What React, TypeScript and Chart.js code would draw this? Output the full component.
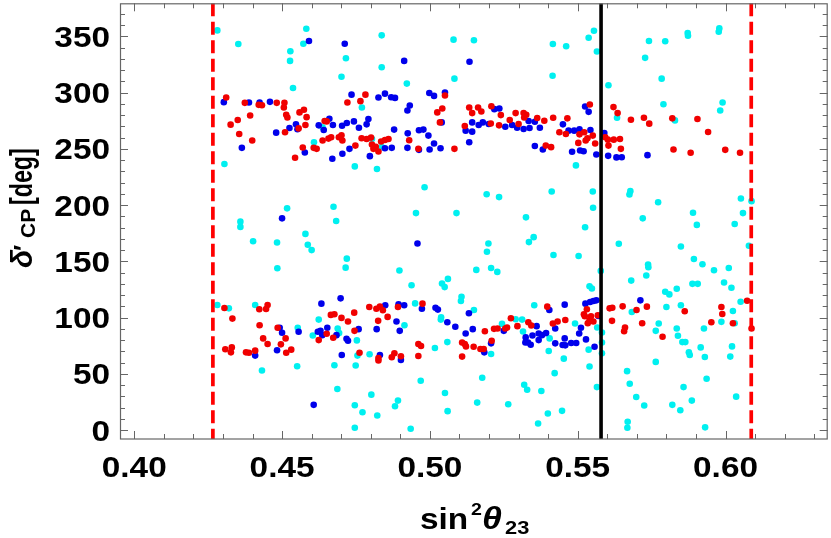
import React, { useEffect, useRef } from "react";
import { Chart, registerables } from "chart.js";

Chart.register(...registerables);

const W = 831;
const H = 538;

// axis ranges
const xMin = 0.39518;
const xMax = 0.63456;
const yMin = -7.94;
const yMax = 379.4;

// tick labels
const xTickLabels = [0.4, 0.45, 0.5, 0.55, 0.6];
const yTickLabels = [0, 50, 100, 150, 200, 250, 300, 350];

// reference lines (sin^2 theta23)
const dashedLines = [0.4266, 0.6087];
const solidLines = [0.5579];

// series: [sin^2 theta23, delta'_CP]
const cyanPoints: [number, number][] = [
  [0.4281, 355.3], [0.4352, 343.2], [0.4582, 356.8], [0.4572, 343.5], [0.4528, 336.8], [0.4527, 328.2], [0.4537, 304.1],
  [0.4716, 330.6], [0.4701, 314.1], [0.4837, 350.9], [0.4837, 322.6], [0.508, 347.1], [0.5083, 312.4], [0.4922, 308.0],
  [0.477, 286.8], [0.4637, 269.1], [0.4608, 255.9], [0.4804, 258.8], [0.4837, 251.5], [0.4305, 236.5], [0.4746, 234.4],
  [0.4821, 232.1], [0.4982, 215.9],
  [0.5149, 346.5], [0.5416, 343.2], [0.5461, 341.2], [0.5537, 348.8], [0.5555, 355.0], [0.5565, 336.5], [0.5415, 315.0],
  [0.5604, 306.5], [0.5741, 345.9], [0.5796, 345.6], [0.5872, 352.9], [0.5873, 350.6], [0.5979, 357.1], [0.5977, 354.1],
  [0.5728, 330.9], [0.5784, 312.4], [0.579, 289.7], [0.599, 291.2], [0.5982, 284.1], [0.5633, 277.6], [0.5829, 275.3],
  [0.5494, 235.3], [0.5192, 209.7], [0.5234, 207.1], [0.5412, 212.1], [0.5551, 212.1], [0.5678, 212.4], [0.5675, 209.4],
  [0.5772, 202.5], [0.6052, 205.9], [0.6088, 203.5],
  [0.4517, 197.1], [0.4674, 198.5], [0.4683, 185.9], [0.4359, 185.3], [0.4359, 180.6], [0.4402, 167.9], [0.4483, 166.8],
  [0.4484, 143.8], [0.4579, 174.4], [0.4587, 164.7], [0.46, 160.0], [0.4719, 152.4], [0.4715, 144.4], [0.4897, 141.8],
  [0.4938, 128.8], [0.4953, 192.9], [0.509, 192.9], [0.5041, 130.3], [0.505, 127.1], [0.5061, 134.4], [0.4281, 111.2],
  [0.432, 108.2], [0.4409, 111.2], [0.4553, 90.9], [0.4604, 84.1], [0.4624, 98.2], [0.4688, 90.3], [0.4693, 86.2],
  [0.495, 112.6], [0.4914, 93.2], [0.5038, 100.3], [0.5037, 98.2], [0.4432, 52.9], [0.4551, 56.8], [0.4677, 57.6],
  [0.4749, 57.4], [0.4755, 66.2], [0.4753, 79.7], [0.4796, 67.4], [0.5017, 72.9], [0.5059, 78.2], [0.4687, 36.5],
  [0.4802, 31.5], [0.4746, 22.1], [0.4772, 15.9], [0.4822, 12.9], [0.4892, 26.2], [0.4882, 21.2], [0.4746, 2.1],
  [0.4935, 1.2], [0.4969, 43.8], [0.5051, 32.9], [0.506, 16.8],
  [0.5552, 197.6], [0.5325, 189.1], [0.5525, 180.3], [0.5351, 171.5], [0.5335, 167.1], [0.5198, 165.9], [0.5193, 158.5],
  [0.5418, 155.6], [0.5503, 154.7], [0.5157, 142.4], [0.5207, 144.1], [0.5228, 140.6], [0.5578, 141.5], [0.554, 127.9],
  [0.5548, 125.9], [0.5107, 118.5], [0.5105, 114.7], [0.5149, 106.8], [0.5244, 94.4], [0.529, 98.5], [0.5312, 98.2],
  [0.5315, 87.6], [0.5353, 110.9], [0.5405, 81.5], [0.5491, 94.7], [0.5402, 70.3], [0.5207, 67.6], [0.5453, 63.5],
  [0.5422, 50.6], [0.5537, 71.5], [0.554, 56.5], [0.5566, 91.2], [0.5582, 86.8], [0.5582, 77.9], [0.5582, 68.2],
  [0.5565, 38.2], [0.5177, 46.5], [0.516, 24.4], [0.5265, 22.9], [0.5319, 40.3], [0.5329, 35.9], [0.5377, 34.7],
  [0.5366, 5.9], [0.5399, 14.7], [0.5447, 17.1], [0.5639, 165.6], [0.572, 188.2], [0.589, 193.2], [0.5903, 182.4],
  [0.5849, 163.2], [0.5738, 147.1], [0.5739, 144.7], [0.5732, 137.4], [0.5681, 132.9], [0.5893, 152.1], [0.5922, 147.4],
  [0.5961, 142.1], [0.6011, 144.1], [0.5995, 131.2], [0.602, 126.5], [0.5888, 130.0], [0.5906, 130.0], [0.5835, 125.6],
  [0.5796, 122.9], [0.581, 120.6], [0.58, 109.4], [0.5849, 110.9], [0.5683, 105.0], [0.5774, 94.7], [0.5764, 88.2],
  [0.5835, 90.3], [0.5839, 83.8], [0.5854, 78.2], [0.5864, 78.2], [0.5876, 69.1], [0.5879, 66.8], [0.5927, 90.3],
  [0.5986, 96.2], [0.6025, 105.9], [0.6031, 95.0], [0.6051, 114.1], [0.6079, 163.8], [0.6059, 192.9], [0.6031, 183.2],
  [0.5916, 73.5], [0.593, 65.0], [0.6022, 74.4], [0.6016, 65.3], [0.5764, 60.6], [0.5667, 52.4], [0.5676, 41.2],
  [0.5698, 29.4], [0.5725, 21.8], [0.5858, 38.2], [0.5936, 45.6], [0.5886, 26.2], [0.582, 22.4], [0.5847, 17.6],
  [0.6036, 29.7], [0.5669, 7.4], [0.5668, 2.1], [0.5931, 2.4],
];

const bluePoints: [number, number][] = [
  [0.4591, 345.9], [0.4712, 343.5], [0.4913, 328.2], [0.4303, 291.5], [0.4388, 291.2], [0.4424, 291.2], [0.4459, 291.8],
  [0.4364, 250.9], [0.448, 264.4], [0.4525, 268.5], [0.4547, 271.8], [0.4552, 267.4], [0.4577, 246.8], [0.4624, 270.9],
  [0.4641, 266.8], [0.466, 276.8], [0.4672, 271.2], [0.467, 241.2], [0.4703, 270.6], [0.4719, 273.0], [0.4704, 245.6],
  [0.4728, 250.0], [0.4735, 298.2], [0.4743, 274.4], [0.476, 268.8], [0.4786, 271.8], [0.4792, 276.5], [0.4797, 243.5],
  [0.4826, 295.6], [0.4848, 299.1], [0.4869, 295.9], [0.4882, 295.3], [0.4879, 267.1], [0.4848, 250.6], [0.4871, 250.9],
  [0.4924, 284.1], [0.4932, 288.5], [0.4925, 263.8], [0.4924, 250.9], [0.4963, 266.5], [0.4978, 267.1], [0.4995, 261.8],
  [0.4963, 249.1], [0.4999, 249.4], [0.5014, 254.7], [0.5036, 250.6], [0.4998, 299.7], [0.5014, 297.1], [0.5051, 300.0],
  [0.504, 273.5],
  [0.5134, 327.4], [0.5133, 255.9], [0.5121, 266.2], [0.5143, 273.5], [0.5143, 265.3], [0.5165, 271.2], [0.5179, 273.5],
  [0.5199, 272.1], [0.5218, 285.3], [0.5235, 285.9], [0.5255, 269.7], [0.5278, 271.2], [0.5295, 268.8], [0.5317, 267.6],
  [0.5334, 274.7], [0.5337, 268.5], [0.5355, 274.1], [0.5372, 268.8], [0.5355, 252.6], [0.5382, 249.4], [0.545, 271.8],
  [0.5469, 266.2], [0.5488, 266.2], [0.5506, 267.4], [0.5481, 247.4], [0.5508, 248.5], [0.552, 247.9], [0.5525, 287.6],
  [0.5537, 282.9], [0.5543, 266.8], [0.5563, 245.0], [0.559, 264.1], [0.5603, 243.8], [0.5631, 242.4], [0.5649, 242.6],
  [0.5736, 244.4],
  [0.45, 188.2], [0.4958, 165.9], [0.4633, 112.4], [0.4698, 117.1], [0.4492, 90.9], [0.45, 86.5], [0.4483, 70.9],
  [0.4409, 66.2], [0.4556, 87.4], [0.4621, 87.4], [0.463, 88.2], [0.4636, 84.4], [0.4653, 90.9], [0.4684, 84.4],
  [0.4718, 81.2], [0.4723, 79.4], [0.4702, 66.8], [0.4759, 89.7], [0.482, 89.7], [0.4831, 66.8], [0.4849, 110.9],
  [0.4887, 96.5], [0.4898, 88.2], [0.4894, 111.8], [0.4913, 110.9], [0.4902, 62.4], [0.4973, 107.9], [0.5019, 108.8],
  [0.5027, 107.1], [0.5059, 95.9], [0.5086, 91.8], [0.4607, 22.4],
  [0.5132, 103.8], [0.5121, 85.9], [0.5145, 89.7], [0.5184, 69.1], [0.5207, 77.1], [0.525, 88.2], [0.5324, 82.4],
  [0.5332, 77.9], [0.5323, 77.9], [0.5341, 75.9], [0.5347, 84.1], [0.5361, 92.4], [0.5368, 85.9], [0.5368, 80.0],
  [0.5379, 84.4], [0.5393, 86.2], [0.5404, 106.8], [0.5424, 90.3], [0.5424, 77.1], [0.5456, 111.5], [0.5456, 81.5],
  [0.5449, 75.6], [0.5458, 75.3], [0.5478, 77.4], [0.5495, 77.4], [0.5505, 85.9], [0.5511, 90.9], [0.5528, 80.6],
  [0.5557, 74.1], [0.5526, 112.4], [0.5542, 113.8], [0.5553, 114.7], [0.5563, 115.3], [0.557, 101.5], [0.5712, 115.3],
];

const redPoints: [number, number][] = [
  [0.4311, 295.6], [0.4326, 271.5], [0.435, 275.6], [0.4355, 263.2], [0.4399, 257.4], [0.4374, 290.9], [0.4392, 279.7],
  [0.4421, 289.1], [0.4432, 288.8], [0.4482, 290.9], [0.4508, 290.9], [0.4506, 286.8], [0.4514, 280.3], [0.4518, 277.9],
  [0.451, 264.7], [0.4544, 242.1], [0.4559, 282.4], [0.4574, 284.7], [0.4583, 278.2], [0.4579, 271.2], [0.4556, 268.2],
  [0.457, 251.2], [0.4607, 250.9], [0.4617, 250.0], [0.4644, 274.7], [0.4651, 274.4], [0.4637, 257.4], [0.4657, 259.1],
  [0.4666, 260.3], [0.4692, 260.3], [0.4701, 262.1], [0.4704, 257.4], [0.4721, 291.2], [0.4748, 252.9], [0.4765, 292.4],
  [0.4782, 298.2], [0.4769, 259.4], [0.4786, 258.8], [0.4801, 260.0], [0.4804, 253.8], [0.4809, 250.0], [0.4817, 251.8],
  [0.4826, 247.6], [0.4835, 256.5], [0.4848, 257.9], [0.486, 258.8], [0.493, 257.6], [0.4961, 250.0], [0.5025, 282.4],
  [0.5042, 285.9], [0.5034, 273.5], [0.5051, 297.4], [0.5083, 250.0],
  [0.5118, 270.3], [0.5133, 286.8], [0.5143, 281.8], [0.5163, 286.8], [0.5174, 283.2], [0.5208, 287.9], [0.5206, 272.6],
  [0.5234, 270.9], [0.524, 280.0], [0.527, 275.6], [0.529, 281.8], [0.53, 272.1], [0.5317, 281.8], [0.5326, 280.3],
  [0.5319, 277.9], [0.5363, 277.4], [0.5387, 275.0], [0.5392, 252.9], [0.541, 251.5], [0.5417, 277.6], [0.5438, 264.7],
  [0.546, 263.2], [0.5465, 277.1], [0.5502, 255.3], [0.5506, 262.9], [0.5522, 264.7], [0.5527, 257.4], [0.5533, 259.4],
  [0.5541, 289.4], [0.5551, 261.8], [0.5559, 254.7], [0.5593, 260.3], [0.5602, 258.2], [0.5604, 252.9], [0.5622, 258.2],
  [0.5643, 258.8], [0.5646, 250.0], [0.5621, 287.1], [0.5635, 281.8], [0.568, 275.9], [0.5724, 277.6], [0.5742, 272.4],
  [0.582, 277.1], [0.5824, 249.4], [0.5882, 246.5], [0.5905, 276.5], [0.5941, 265.0], [0.5999, 249.1], [0.6049, 246.5],
  [0.4305, 108.5], [0.4332, 99.1], [0.4308, 71.8], [0.433, 73.5], [0.4327, 69.1], [0.4378, 69.1], [0.4388, 68.8],
  [0.4409, 70.6], [0.4423, 107.4], [0.4446, 107.6], [0.4451, 111.2], [0.4424, 93.2], [0.4436, 81.5], [0.4451, 76.5],
  [0.4485, 90.9], [0.4496, 76.2], [0.4512, 81.5], [0.4514, 68.8], [0.4531, 71.5], [0.4624, 80.0], [0.4651, 85.6],
  [0.4665, 102.4], [0.4677, 102.9], [0.4673, 82.1], [0.4701, 99.7], [0.4723, 96.5], [0.4744, 104.4], [0.4745, 88.2],
  [0.4762, 68.8], [0.4795, 109.4], [0.4819, 107.9], [0.4831, 109.7], [0.4841, 106.5], [0.4825, 97.1], [0.4857, 100.6],
  [0.4826, 64.1], [0.4826, 61.8], [0.4871, 64.7], [0.488, 68.2], [0.4902, 65.6], [0.4892, 109.4], [0.4975, 112.4],
  [0.4961, 76.5], [0.497, 74.7], [0.4961, 65.9],
  [0.5109, 77.9], [0.5118, 76.5], [0.5122, 74.4], [0.5109, 65.3], [0.5148, 74.1], [0.5171, 72.1], [0.5182, 72.1],
  [0.5186, 87.9], [0.5209, 79.4], [0.5217, 90.0], [0.5229, 90.3], [0.5255, 90.3], [0.5261, 91.2], [0.5274, 99.4],
  [0.5296, 92.4], [0.5333, 95.9], [0.5343, 92.9], [0.5397, 109.7], [0.5416, 94.7], [0.5432, 96.5], [0.5458, 97.9],
  [0.5521, 102.9], [0.5531, 107.4], [0.5524, 101.2], [0.5545, 101.2], [0.554, 97.6], [0.5534, 95.0], [0.5553, 96.5],
  [0.5568, 102.1], [0.5608, 108.2], [0.5617, 108.8], [0.5616, 97.1], [0.5652, 110.0], [0.566, 91.2], [0.5657, 87.9],
  [0.5699, 106.8], [0.5734, 109.7], [0.5718, 95.0], [0.5787, 82.9], [0.5862, 105.6], [0.5952, 95.9], [0.5986, 109.4],
  [0.5989, 103.2], [0.6025, 95.0], [0.6073, 115.0], [0.6088, 90.3],
];

const FONT = '"Liberation Sans", Arial, sans-serif';
const RADIUS = 3.3;
const STRETCH = 1.15;

const toXY = (pts: [number, number][]) => pts.map(([x, y]) => ({ x, y }));

const overlayPlugin = {
  id: "overlay",
  afterDatasetsDraw(chart: any) {
    const { ctx, chartArea, scales } = chart;
    const { left, right, top, bottom } = chartArea;
    const xs = scales.x;
    const ys = scales.y;
    ctx.save();
    ctx.beginPath();
    ctx.rect(left, top, right - left, bottom - top);
    ctx.clip();
    ctx.strokeStyle = "rgb(255,0,0)";
    ctx.lineWidth = 3.7;
    ctx.setLineDash([13, 5.5]);
    for (const v of dashedLines) {
      const px = xs.getPixelForValue(v);
      ctx.beginPath();
      ctx.moveTo(px, top);
      ctx.lineTo(px, bottom);
      ctx.stroke();
    }
    ctx.setLineDash([]);
    ctx.strokeStyle = "#000";
    ctx.lineWidth = 3.6;
    for (const v of solidLines) {
      const px = xs.getPixelForValue(v);
      ctx.beginPath();
      ctx.moveTo(px, top);
      ctx.lineTo(px, bottom);
      ctx.stroke();
    }
    ctx.restore();

    // frame + ticks
    ctx.save();
    ctx.strokeStyle = "#666";
    ctx.lineWidth = 1.2;
    ctx.strokeRect(left + 0.5, top + 0.5, right - left - 1, bottom - top - 0.5);
    ctx.lineWidth = 1;
    ctx.beginPath();
    for (let i = 40; i <= 63; i++) {
      const v = i / 100;
      const px = Math.round(xs.getPixelForValue(v)) + 0.5;
      const len = i % 5 === 0 ? 8 : 5;
      ctx.moveTo(px, bottom);
      ctx.lineTo(px, bottom - len);
      ctx.moveTo(px, top);
      ctx.lineTo(px, top + len);
    }
    for (let v = 0; v <= 370; v += 10) {
      const py = Math.round(ys.getPixelForValue(v)) + 0.5;
      const len = v % 50 === 0 ? 8 : 5;
      ctx.moveTo(left, py);
      ctx.lineTo(left + len, py);
      ctx.moveTo(right, py);
      ctx.lineTo(right - len, py);
    }
    ctx.stroke();
    ctx.restore();
  },
  afterDraw(chart: any) {
    const { ctx, scales } = chart;
    const xs = scales.x;
    const ys = scales.y;
    ctx.save();
    ctx.fillStyle = "#000";
    ctx.textBaseline = "alphabetic";
    ctx.textAlign = "left";

    // tick labels (bold, slightly wide)
    ctx.font = `bold 29px ${FONT}`;
    for (const v of xTickLabels) {
      ctx.save();
      ctx.translate(xs.getPixelForValue(v), 477);
      ctx.scale(STRETCH, 1);
      ctx.textAlign = "center";
      ctx.fillText(v.toFixed(2), 0, 0);
      ctx.restore();
    }
    for (const v of yTickLabels) {
      ctx.save();
      ctx.translate(110, ys.getPixelForValue(v) + 10.5);
      ctx.scale(STRETCH, 1);
      ctx.textAlign = "right";
      ctx.fillText(String(v), 0, 0);
      ctx.restore();
    }

    // x title: sin^2 theta_23
    const bx = 529;
    const piece = (text: string, font: string, x: number, y: number) => {
      ctx.save();
      ctx.translate(x, y);
      ctx.scale(STRETCH, 1);
      ctx.font = font;
      ctx.fillText(text, 0, 0);
      ctx.restore();
    };
    piece("sin", `bold 29px ${FONT}`, 420, bx);
    piece("2", `bold 17px ${FONT}`, 471, bx - 14);
    piece("θ", `italic bold 31px ${FONT}`, 482, bx);
    piece("23", `bold 19px ${FONT}`, 505, bx + 5);

    // y title: delta'_CP [deg]
    ctx.translate(31.5, 268);
    ctx.rotate(-Math.PI / 2);
    ctx.font = `italic bold 30px ${FONT}`;
    ctx.fillText("δ", 0, 0);
    ctx.font = `bold 26px ${FONT}`;
    ctx.fillText("′", 17, 0);
    ctx.font = `bold 21px ${FONT}`;
    ctx.fillText("CP", 30, 3.5);
    ctx.save();
    ctx.translate(63, 0);
    ctx.scale(0.75, 1);
    ctx.font = `bold 31px ${FONT}`;
    ctx.fillText("[deg]", 0, 0);
    ctx.restore();
    ctx.restore();
  },
};

export default function App() {
  const ref = useRef<HTMLCanvasElement>(null);
  useEffect(() => {
    document.body.style.margin = "0";
    const canvas = ref.current;
    if (!canvas) return;
    const chart = new Chart(canvas, {
      type: "scatter",
      data: {
        datasets: [
          {
            label: "red",
            data: toXY(redPoints),
            backgroundColor: "rgb(240,0,0)",
            pointRadius: RADIUS,
            pointBorderWidth: 0,
            pointHoverRadius: RADIUS,
          },
          {
            label: "blue",
            data: toXY(bluePoints),
            backgroundColor: "rgb(0,0,235)",
            pointRadius: RADIUS,
            pointBorderWidth: 0,
            pointHoverRadius: RADIUS,
          },
          {
            label: "cyan",
            data: toXY(cyanPoints),
            backgroundColor: "rgb(0,240,240)",
            pointRadius: RADIUS,
            pointBorderWidth: 0,
            pointHoverRadius: RADIUS,
          },
        ],
      },
      options: {
        responsive: false,
        animation: false,
        devicePixelRatio: 1,
        events: [],
        layout: { padding: { top: 0, right: 1, left: 0, bottom: 0 } },
        plugins: { legend: { display: false }, tooltip: { enabled: false } },
        scales: {
          x: {
            type: "linear",
            position: "bottom",
            min: xMin,
            max: xMax,
            afterBuildTicks: (s: any) => {
              s.ticks = xTickLabels.map((value) => ({ value }));
            },
            afterFit: (s: any) => {
              s.height = 99;
              s.paddingLeft = 0;
              s.paddingRight = 0;
            },
            ticks: { display: false },
            grid: { display: false, drawTicks: false },
            border: { display: false },
          },
          y: {
            type: "linear",
            position: "left",
            min: yMin,
            max: yMax,
            afterBuildTicks: (s: any) => {
              s.ticks = yTickLabels.map((value) => ({ value }));
            },
            afterFit: (s: any) => {
              s.width = 120;
              s.paddingTop = 0;
              s.paddingBottom = 0;
            },
            ticks: { display: false },
            grid: { display: false, drawTicks: false },
            border: { display: false },
          },
        },
      },
      plugins: [overlayPlugin],
    });
    return () => chart.destroy();
  }, []);
  return (
    <div style={{ width: W, height: H }}>
      <canvas ref={ref} width={W} height={H} style={{ display: "block", width: W, height: H }} />
    </div>
  );
}
